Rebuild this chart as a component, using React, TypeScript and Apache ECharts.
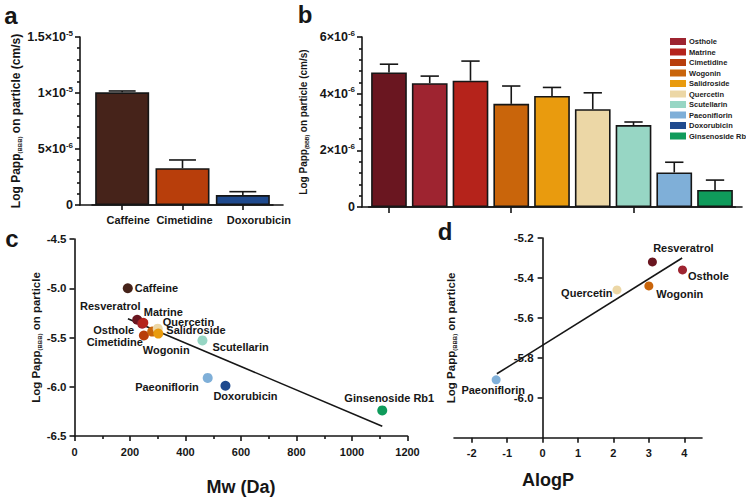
import React, { useEffect, useRef } from "react";
import * as echarts from "echarts";

// ---------- data ----------
const aCategories = ["Caffeine", "Cimetidine", "Doxorubicin"];
const aValues = [1.006e-5, 3.28e-6, 0.89e-6];
const aErrors = [0.12e-6, 0.74e-6, 0.3e-6];

const bCompounds = ["Resveratrol", "Osthole", "Matrine", "Wogonin", "Salidroside", "Quercetin", "Scutellarin", "Paeoniflorin", "Ginsenoside Rb1"];
const bValues = [4.75e-6, 4.37e-6, 4.46e-6, 3.64e-6, 3.92e-6, 3.45e-6, 2.89e-6, 1.22e-6, 0.6e-6];
const bErrors = [0.29e-6, 0.25e-6, 0.69e-6, 0.63e-6, 0.3e-6, 0.58e-6, 0.11e-6, 0.36e-6, 0.35e-6];

const legendNames = ["Osthole", "Matrine", "Cimetidine", "Wogonin", "Salidroside", "Quercetin", "Scutellarin", "Paeoniflorin", "Doxorubicin", "Ginsenoside Rb1"];

const cNames = ["Caffeine", "Resveratrol", "Osthole", "Matrine", "Cimetidine", "Wogonin", "Quercetin", "Salidroside", "Scutellarin", "Paeoniflorin", "Doxorubicin", "Ginsenoside Rb1"];
const cMw = [192, 226, 244, 248, 250, 280, 300, 302, 461, 480, 544, 1109];
const cLogP = [-5.0, -5.32, -5.36, -5.35, -5.48, -5.44, -5.41, -5.46, -5.53, -5.91, -5.99, -6.24];
const cFit = [[192.6, -5.31], [1109, -6.4]];

const dNames = ["Resveratrol", "Osthole", "Wogonin", "Quercetin", "Paeoniflorin"];
const dAlogP = [3.1, 3.95, 3.0, 2.1, -1.31];
const dLogP = [-5.32, -5.36, -5.44, -5.46, -5.91];
const dFit = [[-1.29, -5.88], [3.94, -5.3]];

const dTicks = [-2, -1, 0, 1, 2, 3, 4];

// ---------- styles / layout ----------
const COLORS: Record<string, string> = {
  Caffeine: "#46231a",
  Cimetidine: "#b83e0b",
  Doxorubicin: "#1f4a8e",
  Resveratrol: "#6a1620",
  Osthole: "#9e2430",
  Matrine: "#b5231b",
  Wogonin: "#c9650b",
  Salidroside: "#e99b0e",
  Quercetin: "#ecd7a6",
  Scutellarin: "#97d6c4",
  Paeoniflorin: "#7fafd8",
  "Ginsenoside Rb1": "#0f9b5b",
};

const aLabelShift = [6, 2, 16];

const cLabelLayout: Record<string, { pos: string; dist: number; off: number[] }> = {
  Caffeine: { pos: "right", dist: 2, off: [0, 0] },
  Resveratrol: { pos: "top", dist: 3, off: [-27, 0] },
  Osthole: { pos: "left", dist: 3, off: [0, 6] },
  Matrine: { pos: "top", dist: 0, off: [20, 0] },
  Cimetidine: { pos: "left", dist: 0, off: [4, 6] },
  Wogonin: { pos: "bottom", dist: 8, off: [14, 0] },
  Quercetin: { pos: "right", dist: 0, off: [0, -7] },
  Salidroside: { pos: "right", dist: 3, off: [0, -4] },
  Scutellarin: { pos: "right", dist: 5, off: [0, 7] },
  Paeoniflorin: { pos: "left", dist: 4, off: [0, 9] },
  Doxorubicin: { pos: "bottom", dist: 0, off: [20, 0] },
  "Ginsenoside Rb1": { pos: "top", dist: 2, off: [7, 0] },
};
const dLabelLayout: Record<string, { pos: string; dist: number; off: number[] }> = {
  Resveratrol: { pos: "top", dist: 4, off: [31, 0] },
  Osthole: { pos: "right", dist: 1, off: [0, 6.5] },
  Wogonin: { pos: "right", dist: 3, off: [0, 8] },
  Quercetin: { pos: "left", dist: 0, off: [0, 3] },
  Paeoniflorin: { pos: "bottom", dist: 0, off: [-3, 0] },
};

const FONT = "Liberation Sans, Arial, Helvetica, sans-serif";
const INK = "#161616";
const LW = 1.6;

function sciRich(v: number): string {
  if (Math.abs(v) < 1e-15) return "{m|0}";
  const e = Math.floor(Math.log10(v) + 1e-9);
  const m = +(v / Math.pow(10, e)).toFixed(2);
  return `{m|${m}×10}{e|${e}}`;
}
const sciStyles = (size: number) => ({
  m: { fontSize: size, fontWeight: "bold", fontFamily: FONT, color: INK, lineHeight: size + 3 },
  e: { fontSize: 8, fontWeight: "bold", fontFamily: FONT, color: INK, lineHeight: 8, verticalAlign: "top" },
});

const axisLine = { show: true, onZero: true, lineStyle: { color: INK, width: LW } };
const axisTick = (len: number) => ({ show: true, length: len, lineStyle: { color: INK, width: LW } });
const labelStyle = (size: number) => ({ color: INK, fontFamily: FONT, fontWeight: "bold" as const, fontSize: size });

function titleRich(main: number, sub: number) {
  return {
    m: { fontSize: main, fontWeight: "bold", fontFamily: FONT, color: INK, lineHeight: main + 2 },
    s: { fontSize: sub, fontWeight: "bold", fontFamily: FONT, color: INK, verticalAlign: "bottom", lineHeight: sub + 1 },
  };
}

function errorSeries(values: number[], errors: number[], xi: number, capRatio: number) {
  return {
    type: "custom",
    xAxisIndex: xi,
    yAxisIndex: xi,
    silent: true,
    z: 5,
    encode: { x: 0, y: 1 },
    data: values.map((v, i) => [i, v, errors[i]]),
    renderItem: (params: any, api: any) => {
      const i = api.value(0);
      const v = api.value(1);
      const e = api.value(2);
      const p0 = api.coord([i, v]);
      const p1 = api.coord([i, v + e]);
      const half = (api.size([1, 0])[0] * capRatio) / 2;
      const style = { stroke: INK, lineWidth: LW, fill: "none" };
      return {
        type: "group",
        children: [
          { type: "line", shape: { x1: p0[0], y1: p0[1], x2: p1[0], y2: p1[1] }, style },
          { type: "line", shape: { x1: p1[0] - half, y1: p1[1], x2: p1[0] + half, y2: p1[1] }, style },
        ],
      };
    },
  };
}

function scatterSeries(names: string[], xs: number[], ys: number[], idx: number, size: number, layout: any) {
  return names.map((n, i) => ({
    type: "scatter",
    name: n,
    xAxisIndex: idx,
    yAxisIndex: idx,
    symbolSize: size,
    z: 4,
    itemStyle: { color: COLORS[n], opacity: 1 },
    data: [[xs[i], ys[i]]],
    label: {
      show: true,
      formatter: n,
      position: layout[n].pos,
      distance: layout[n].dist,
      offset: layout[n].off,
      ...labelStyle(11),
    },
    emphasis: { disabled: true },
  }));
}

function buildOption(): any {
  const ytitle = "{m|Log Papp}{s|(BBB)}{m| on particle}";
  const aRich: any = { ...labelStyle(11) };
  aLabelShift.forEach((s, i) => {
    aRich["p" + i] = { ...labelStyle(11), padding: [0, 0, 0, s * 2] };
  });
  return {
    animation: false,
    backgroundColor: "#ffffff",
    textStyle: { fontFamily: FONT },
    grid: [
      { left: 92, top: 37, width: 181, height: 168, outerBoundsMode: "none" },
      { left: 368.6, top: 37, width: 366.8, height: 170, outerBoundsMode: "none" },
      { left: 74.5, top: 239, width: 333, height: 197, outerBoundsMode: "none" },
      { left: 454, top: 238, width: 248, height: 199.7, outerBoundsMode: "none" },
      { left: 80, top: 37, width: 203, height: 168, outerBoundsMode: "none" },
      { left: 362, top: 37, width: 380, height: 170, outerBoundsMode: "none" },
    ],
    xAxis: [
      {
        type: "category", gridIndex: 0, data: aCategories,
        axisLine, axisTick: { ...axisTick(5), alignWithLabel: true },
        axisLabel: {
          ...labelStyle(11), margin: 9, interval: 0,
          formatter: (v: string, i: number) => `{p${i}|${v}}`,
          rich: aRich,
        },
        splitLine: { show: false },
      },
      {
        type: "category", gridIndex: 1, data: bCompounds,
        axisLine, axisTick: { ...axisTick(6), alignWithLabel: true },
        axisLabel: { show: false },
        splitLine: { show: false },
      },
      {
        type: "value", gridIndex: 2, min: 0, max: 1200, interval: 200,
        axisLine, axisTick: axisTick(5),
        minorTick: { show: true, splitNumber: 2, length: 3, lineStyle: { color: INK, width: LW } },
        axisLabel: { ...labelStyle(11), margin: 10, formatter: (v: number) => String(v) },
        splitLine: { show: false },
        name: "Mw (Da)", nameLocation: "middle", nameGap: 42,
        nameTextStyle: { ...labelStyle(18) },
      },
      {
        type: "value", gridIndex: 3, min: -2.5, max: 4.5,
        axisLine: { ...axisLine, onZero: false },
        axisTick: { ...axisTick(5), customValues: dTicks },
        axisLabel: { ...labelStyle(11), margin: 10, customValues: dTicks },
        splitLine: { show: false },
        name: "AlogP", nameLocation: "middle", nameGap: 33,
        nameTextStyle: { ...labelStyle(18), padding: [0, 60, 0, 0] },
      },
      {
        type: "value", gridIndex: 4, min: 0, max: 1, position: "bottom",
        axisLine: { ...axisLine, onZero: false }, axisTick: { show: false }, axisLabel: { show: false }, splitLine: { show: false },
      },
      {
        type: "value", gridIndex: 5, min: 0, max: 1, position: "bottom",
        axisLine: { ...axisLine, onZero: false }, axisTick: { show: false }, axisLabel: { show: false }, splitLine: { show: false },
      },
    ],
    yAxis: [
      {
        type: "value", gridIndex: 0, min: 0, max: 1.5e-5, interval: 5e-6, offset: 12,
        axisLine, axisTick: axisTick(5),
        minorTick: { show: true, splitNumber: 5, length: 3, lineStyle: { color: INK, width: LW } },
        axisLabel: { ...labelStyle(12.5), margin: 7, formatter: sciRich, rich: sciStyles(12.5) },
        splitLine: { show: false },
        name: ytitle + "{m| (cm/s)}", nameLocation: "middle", nameRotate: 90, nameGap: 56,
        nameTextStyle: { rich: titleRich(12, 6) },
      },
      {
        type: "value", gridIndex: 1, min: 0, max: 6e-6, interval: 2e-6, offset: 6.6,
        axisLine, axisTick: axisTick(5),
        minorTick: { show: true, splitNumber: 5, length: 3, lineStyle: { color: INK, width: LW } },
        axisLabel: { ...labelStyle(12.5), margin: 7, formatter: sciRich, rich: sciStyles(12.5) },
        splitLine: { show: false },
        name: ytitle + "{m| (cm/s)}", nameLocation: "middle", nameRotate: 90, nameGap: 53,
        nameTextStyle: { rich: titleRich(10, 5) },
      },
      {
        type: "value", gridIndex: 2, min: -6.5, max: -4.5, interval: 0.5,
        axisLine, axisTick: axisTick(5),
        axisLabel: { ...labelStyle(11.5), margin: 8, formatter: (v: number) => v.toFixed(1) },
        splitLine: { show: false },
        name: ytitle, nameLocation: "middle", nameRotate: 90, nameGap: 32,
        nameTextStyle: { rich: titleRich(11.5, 6) },
      },
      {
        type: "value", gridIndex: 3, min: -6.2, max: -5.2, interval: 0.2,
        offset: -88.6,
        axisLine: { ...axisLine, onZero: false }, axisTick: axisTick(5),
        axisLabel: { ...labelStyle(11.5), margin: 9, showMinLabel: false, formatter: (v: number) => v.toFixed(1) },
        splitLine: { show: false },
        name: ytitle, nameLocation: "middle", nameRotate: 90, nameGap: 85,
        nameTextStyle: { rich: titleRich(11.5, 6) },
      },
      { type: "value", gridIndex: 4, min: 0, max: 1, show: false },
      { type: "value", gridIndex: 5, min: 0, max: 1, show: false },
    ],
    legend: {
      data: legendNames,
      orient: "vertical",
      left: 670,
      top: 37.5,
      padding: 0,
      itemWidth: 16,
      itemHeight: 7,
      itemGap: 2.5,
      icon: "rect",
      selectedMode: false,
      textStyle: { ...labelStyle(7.5), color: "#222", lineHeight: 8, padding: [0, 0, 0, -2] },
    },
    graphic: [
      { type: "text", x: 11, y: 15, style: { text: "a", fontSize: 24, fontWeight: "bold", fontFamily: FONT, fill: INK, align: "center", verticalAlign: "middle" } },
      { type: "text", x: 305, y: 14, style: { text: "b", fontSize: 24, fontWeight: "bold", fontFamily: FONT, fill: INK, align: "center", verticalAlign: "middle" } },
      { type: "text", x: 12, y: 238, style: { text: "c", fontSize: 24, fontWeight: "bold", fontFamily: FONT, fill: INK, align: "center", verticalAlign: "middle" } },
      { type: "text", x: 445, y: 231, style: { text: "d", fontSize: 24, fontWeight: "bold", fontFamily: FONT, fill: INK, align: "center", verticalAlign: "middle" } },
    ],
    series: [
      {
        type: "bar", xAxisIndex: 0, yAxisIndex: 0, barWidth: 54, silent: true,
        data: aValues.map((v, i) => ({ value: v, itemStyle: { color: COLORS[aCategories[i]], borderColor: INK, borderWidth: LW } })),
      },
      errorSeries(aValues, aErrors, 0, 0.446),
      {
        type: "bar", xAxisIndex: 1, yAxisIndex: 1, barWidth: 35.7, silent: true,
        data: bValues.map((v, i) => ({ value: v, itemStyle: { color: COLORS[bCompounds[i]], borderColor: INK, borderWidth: LW } })),
      },
      errorSeries(bValues, bErrors, 1, 0.45),
      {
        type: "line", xAxisIndex: 2, yAxisIndex: 2, data: cFit, symbol: "none", silent: true, z: 3,
        lineStyle: { color: INK, width: LW },
      },
      ...scatterSeries(cNames, cMw, cLogP, 2, 10, cLabelLayout),
      {
        type: "line", xAxisIndex: 3, yAxisIndex: 3, data: dFit, symbol: "none", silent: true, z: 3,
        lineStyle: { color: INK, width: LW },
      },
      ...scatterSeries(dNames, dAlogP, dLogP, 3, 9, dLabelLayout),
    ],
  };
}

export default function App() {
  const ref = useRef<HTMLDivElement>(null);
  useEffect(() => {
    if (!ref.current) return;
    const chart = echarts.init(ref.current, null, { renderer: "svg" });
    chart.setOption(buildOption());
    return () => chart.dispose();
  }, []);
  return (
    <div
      ref={ref}
      style={{ position: "fixed", left: 0, top: 0, width: 746, height: 499, background: "#fff" }}
    />
  );
}
